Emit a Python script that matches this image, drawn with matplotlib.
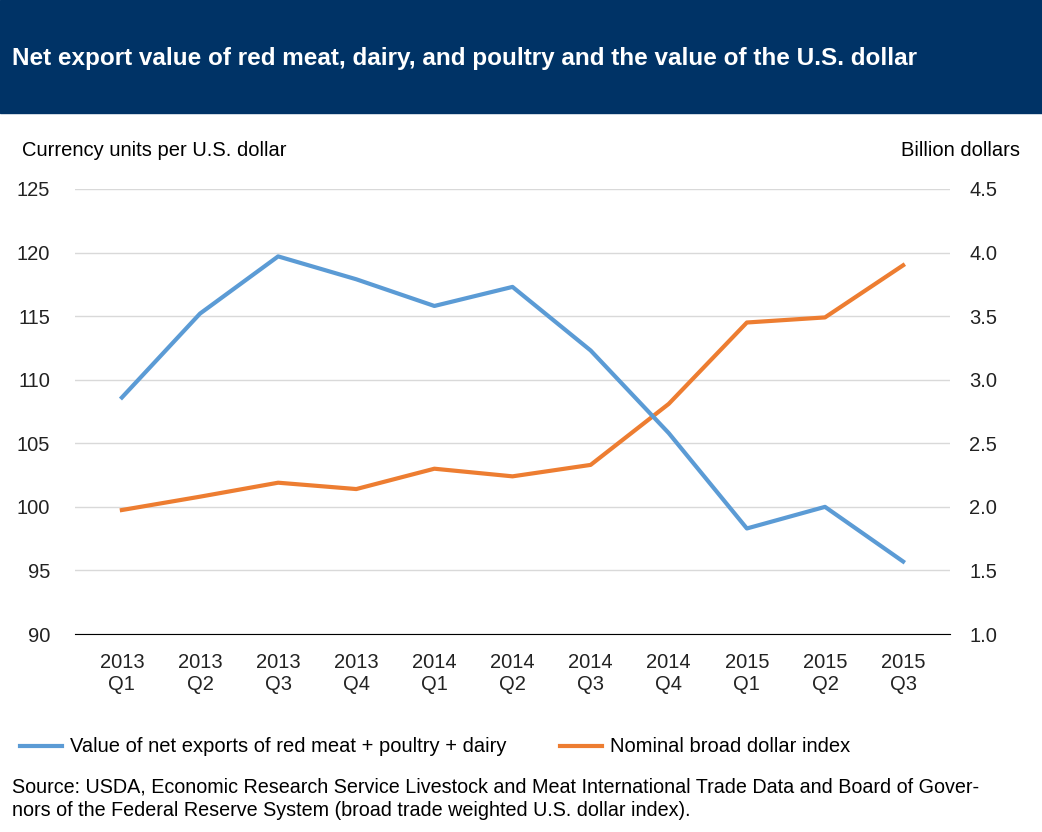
import matplotlib
matplotlib.use("Agg")
import matplotlib.pyplot as plt

quarters = ["2013\nQ1", "2013\nQ2", "2013\nQ3", "2013\nQ4", "2014\nQ1", "2014\nQ2",
            "2014\nQ3", "2014\nQ4", "2015\nQ1", "2015\nQ2", "2015\nQ3"]
net_exports = [2.86, 3.52, 3.97, 3.79, 3.58, 3.73, 3.23, 2.58, 1.83, 2.00, 1.57]
dollar_index = [99.75, 100.8, 101.9, 101.4, 103.0, 102.4, 103.3, 108.1, 114.5, 114.9, 119.0]

BLUE = "#5b9bd5"
ORANGE = "#ed7d31"
NAVY = "#003366"

plt.rcParams["font.family"] = ["Liberation Sans", "DejaVu Sans"]
fig = plt.figure(figsize=(10.42, 8.32), dpi=100)
fig.patches.append(plt.Rectangle((0, 1 - 113 / 832), 1, 113 / 832, transform=fig.transFigure,
                                 color=NAVY, zorder=0))
fig.text(12 / 1042, 1 - 58 / 832, "Net export value of red meat, dairy, and poultry and the value of the U.S. dollar",
         color="white", fontsize=17.5, fontweight="bold", va="center")

ax = fig.add_axes([75 / 1042, 1 - 634 / 832, 875 / 1042, 445 / 832])
ax2 = ax.twinx()
x = range(len(quarters))
ax.plot(x, dollar_index, color=ORANGE, lw=3, zorder=3)
ax2.plot(x, net_exports, color=BLUE, lw=3, zorder=3)
ax.set_ylim(90, 125)
ax2.set_ylim(1.0, 4.5)
ax.set_yticks(range(90, 126, 5))
ax2.set_yticks([1.0 + 0.5 * i for i in range(8)])
ax2.set_yticklabels([f"{1.0 + 0.5 * i:.1f}" for i in range(8)])
ax.set_xlim(-0.6, 10.6)
ax.set_xticks(list(x))
ax.set_xticklabels(quarters)
ax.grid(axis="y", color="#d9d9d9", lw=1)
ax.set_axisbelow(True)
for a in (ax, ax2):
    for s in a.spines.values():
        s.set_visible(False)
    a.tick_params(length=0, labelsize=14.5, colors="#222222")
ax.spines["bottom"].set_visible(True)
ax.spines["bottom"].set_color("black")
ax.tick_params(axis="x", pad=14)
ax.tick_params(axis="y", pad=18)
ax2.tick_params(axis="y", pad=14)

fig.text(22 / 1042, 1 - 150 / 832, "Currency units per U.S. dollar", fontsize=14.5, va="center")
fig.text(1020 / 1042, 1 - 150 / 832, "Billion dollars", fontsize=14.5, va="center", ha="right")

# legend
ly = 1 - 746 / 832
fig.lines.append(plt.Line2D([20 / 1042, 62 / 1042], [ly, ly], color=BLUE, lw=3, transform=fig.transFigure))
fig.text(70 / 1042, ly, "Value of net exports of red meat + poultry + dairy", fontsize=14.5, va="center")
fig.lines.append(plt.Line2D([560 / 1042, 602 / 1042], [ly, ly], color=ORANGE, lw=3, transform=fig.transFigure))
fig.text(610 / 1042, ly, "Nominal broad dollar index", fontsize=14.5, va="center")

fig.text(12 / 1042, 1 - 799 / 832,
         "Source: USDA, Economic Research Service Livestock and Meat International Trade Data and Board of Gover-\n"
         "nors of the Federal Reserve System (broad trade weighted U.S. dollar index).",
         fontsize=14.2, va="center", linespacing=1.3)

fig.savefig("out.png", dpi=100, facecolor="white")
